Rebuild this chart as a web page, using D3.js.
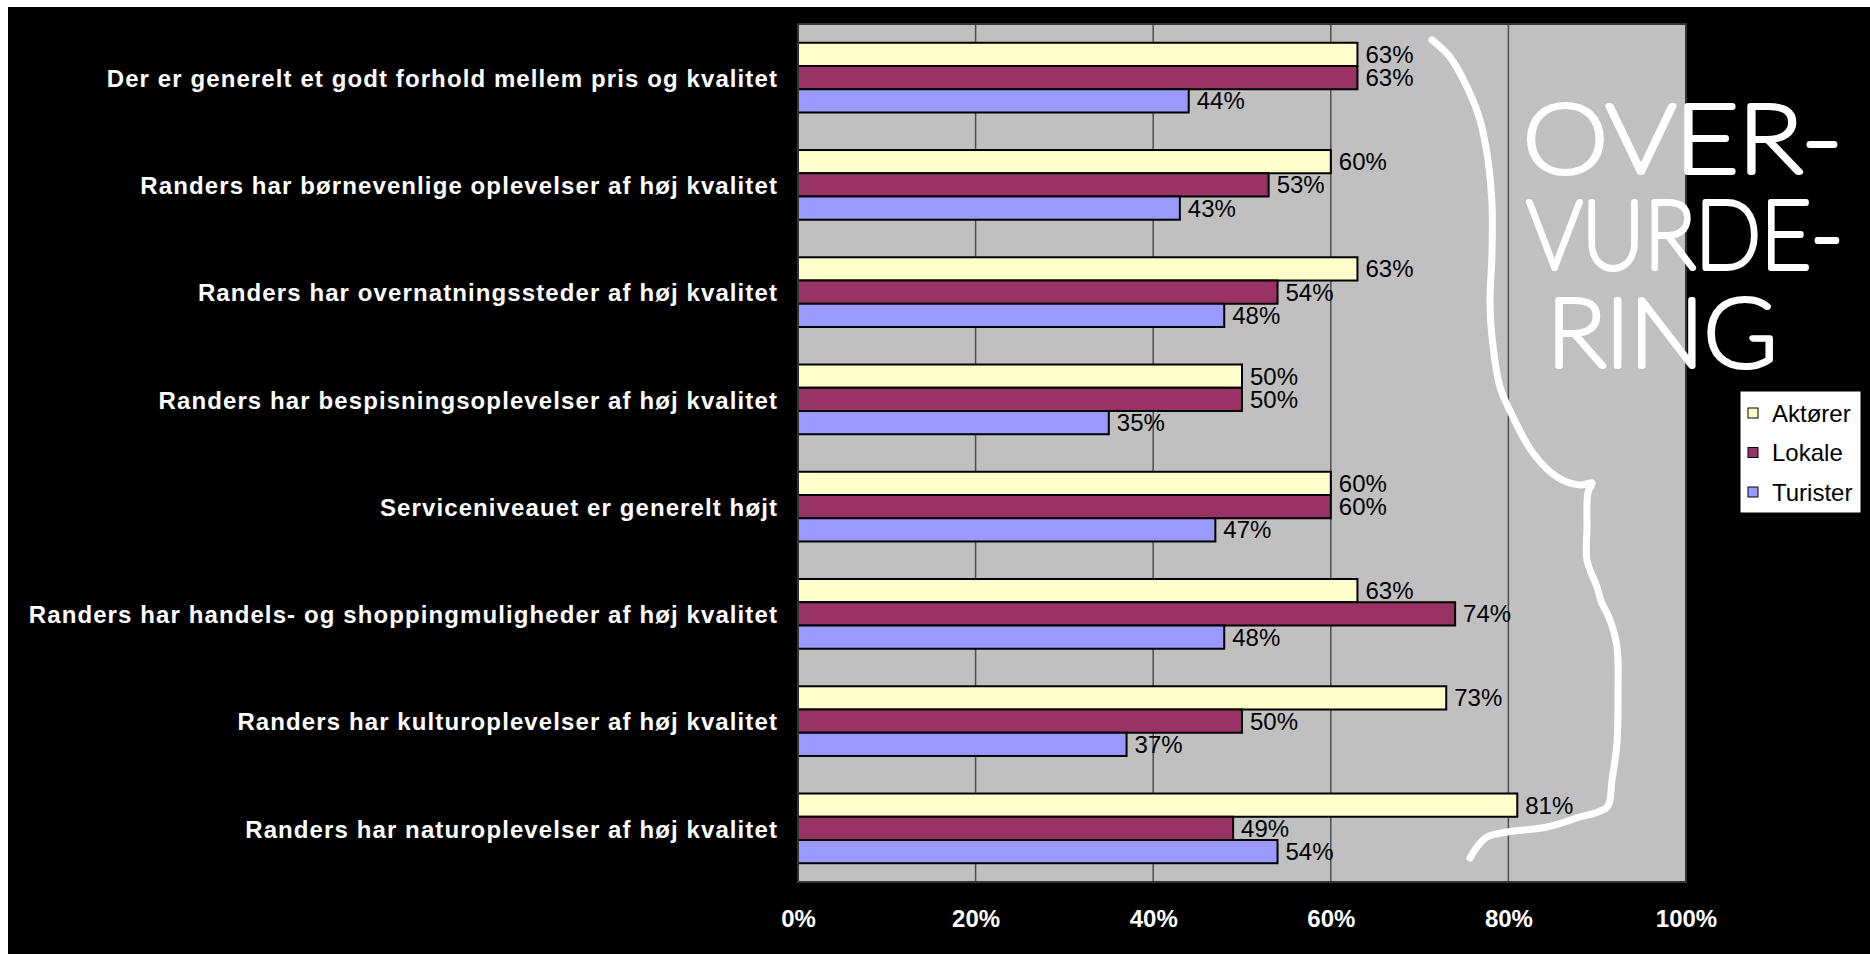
<!DOCTYPE html>
<html>
<head>
<meta charset="utf-8">
<script src="https://cdn.jsdelivr.net/npm/d3@7"></script>
<style>
  body { margin: 0; background: #fff; }
  svg { display: block; }
</style>
</head>
<body>
<div id="chart"></div>
<script>
// chart data
const categories = [
  "Der er generelt et godt forhold mellem pris og kvalitet",
  "Randers har børnevenlige oplevelser af høj kvalitet",
  "Randers har overnatningssteder af høj kvalitet",
  "Randers har bespisningsoplevelser af høj kvalitet",
  "Serviceniveauet er generelt højt",
  "Randers har handels- og shoppingmuligheder af høj kvalitet",
  "Randers har kulturoplevelser af høj kvalitet",
  "Randers har naturoplevelser af høj kvalitet"
];
const seriesNames = ["Aktører", "Lokale", "Turister"];
const aktorer  = [63, 60, 63, 50, 60, 63, 73, 81];
const lokale   = [63, 53, 54, 50, 60, 74, 50, 49];
const turister = [44, 43, 48, 35, 47, 48, 37, 54];
const xTicks = [0, 20, 40, 60, 80, 100];
const noteLines = ["OVER-", "VURDE-", "RING"];

const seriesValues = [aktorer, lokale, turister];
const colors = ["#FFFFCC", "#993366", "#9999FF"];

const W = 1870, H = 954;
const plot = { left: 798, right: 1686, top: 24, bottom: 882 };

const svg = d3.select("#chart").append("svg")
    .attr("width", W)
    .attr("height", H);

// black slide background
svg.append("rect")
    .attr("x", 8).attr("y", 7)
    .attr("width", W - 8).attr("height", H - 7)
    .attr("fill", "#000");

const x = d3.scaleLinear().domain([0, 100]).range([plot.left, plot.right]);
const y0 = d3.scaleBand().domain(categories)
    .range([plot.top, plot.bottom])
    .paddingInner(0.35).paddingOuter(0.175);
const y1 = d3.scaleBand().domain(seriesNames).range([0, y0.bandwidth()]);

// plot area
svg.append("rect")
    .attr("x", plot.left).attr("y", plot.top)
    .attr("width", plot.right - plot.left)
    .attr("height", plot.bottom - plot.top)
    .attr("fill", "#C0C0C0");

// gridlines
svg.append("g").selectAll("line")
    .data(xTicks.slice(1, -1))
    .join("line")
    .attr("x1", d => x(d)).attr("x2", d => x(d))
    .attr("y1", plot.top).attr("y2", plot.bottom)
    .attr("stroke", "#4d4d4d")
    .attr("stroke-width", 1.5);

// bars
const groups = svg.append("g").selectAll("g")
    .data(categories)
    .join("g")
    .attr("transform", d => `translate(0,${y0(d)})`);

groups.selectAll("rect")
    .data((d, i) => seriesNames.map((s, j) => ({ s, j, v: seriesValues[j][i] })))
    .join("rect")
    .attr("x", x(0))
    .attr("y", d => y1(d.s))
    .attr("width", d => x(d.v) - x(0))
    .attr("height", y1.bandwidth())
    .attr("fill", d => colors[d.j])
    .attr("stroke", "#000")
    .attr("stroke-width", 2);

groups.selectAll("text")
    .data((d, i) => seriesNames.map((s, j) => ({ s, j, v: seriesValues[j][i] })))
    .join("text")
    .attr("x", d => x(d.v) + 8)
    .attr("y", d => y1(d.s) + y1.bandwidth() / 2)
    .attr("dy", "0.35em")
    .attr("font-family", "'Liberation Sans', Arial, sans-serif")
    .attr("font-size", 24)
    .attr("fill", "#000")
    .text(d => d.v + "%");

// plot border
svg.append("rect")
    .attr("x", plot.left).attr("y", plot.top)
    .attr("width", plot.right - plot.left)
    .attr("height", plot.bottom - plot.top)
    .attr("fill", "none")
    .attr("stroke", "#333")
    .attr("stroke-width", 2);

// x axis
const xAxis = svg.append("g")
    .attr("transform", `translate(0,${plot.bottom})`)
    .call(d3.axisBottom(x).tickValues(xTicks).tickSize(0).tickPadding(28)
        .tickFormat(d => d + "%"));
xAxis.select(".domain").remove();
xAxis.selectAll("text")
    .attr("fill", "#fff")
    .attr("font-family", "'Liberation Sans', Arial, sans-serif")
    .attr("font-size", 24)
    .attr("font-weight", "bold");

// y axis (category labels)
const yAxis = svg.append("g")
    .attr("transform", `translate(${plot.left},0)`)
    .call(d3.axisLeft(y0).tickSize(0).tickPadding(20));
yAxis.select(".domain").remove();
yAxis.selectAll("text")
    .attr("fill", "#fff")
    .attr("dy", "0.38em")
    .attr("font-family", "'Liberation Sans', Arial, sans-serif")
    .attr("font-size", 24)
    .attr("font-weight", "bold")
    .attr("letter-spacing", 1.1);

// legend
const legend = svg.append("g").attr("transform", "translate(1740,391)");
legend.append("rect")
    .attr("width", 121).attr("height", 122)
    .attr("fill", "#fff")
    .attr("stroke", "#000");
const items = legend.selectAll("g.item")
    .data(seriesNames)
    .join("g")
    .attr("class", "item")
    .attr("transform", (d, i) => `translate(8,${22 + i * 39.5})`);
items.append("rect")
    .attr("x", 0).attr("y", -5)
    .attr("width", 10).attr("height", 10)
    .attr("fill", (d, i) => colors[i])
    .attr("stroke", "#000");
items.append("text")
    .attr("x", 24)
    .attr("dy", "0.36em")
    .attr("font-family", "'Liberation Sans', Arial, sans-serif")
    .attr("font-size", 24)
    .attr("fill", "#000")
    .text(d => d);

// hand-drawn brace annotation
const bracePts = [
  [1432, 40], [1450, 57], [1467, 87], [1480, 120], [1488, 160], [1492, 203],
  [1492, 253], [1490, 303], [1492, 337], [1500, 387], [1513, 417], [1533, 453],
  [1557, 477], [1580, 485], [1592, 483], [1588, 492], [1587, 527], [1587, 560],
  [1597, 587], [1601, 601], [1610, 620], [1617, 647], [1618, 693], [1617, 743],
  [1612, 780], [1608, 806], [1598, 812], [1580, 817], [1547, 827], [1507, 832],
  [1487, 837], [1477, 847], [1470, 858]
];
svg.append("path")
    .attr("d", d3.line().curve(d3.curveCatmullRom)(bracePts))
    .attr("fill", "none")
    .attr("stroke", "#fff")
    .attr("stroke-width", 7)
    .attr("stroke-linecap", "round")
    .attr("stroke-linejoin", "round");

// hand-written note
const notePos = [
  { x: 1523, y: 172, w: 319 },
  { x: 1527, y: 268, w: 316 },
  { x: 1547, y: 366, w: 230 }
];
svg.append("g").selectAll("text")
    .data(noteLines)
    .join("text")
    .attr("x", (d, i) => notePos[i].x)
    .attr("y", (d, i) => notePos[i].y)
    .attr("textLength", (d, i) => notePos[i].w)
    .attr("lengthAdjust", "spacingAndGlyphs")
    .attr("font-family", "Lato, Roboto, 'DejaVu Sans', sans-serif")
    .attr("font-weight", 100)
    .attr("font-size", 94)
    .attr("fill", "#fff")
    .attr("stroke", "#fff")
    .attr("stroke-width", 6)
    .attr("stroke-linejoin", "round")
    .attr("stroke-linecap", "round")
    .text(d => d);
</script>
</body>
</html>
